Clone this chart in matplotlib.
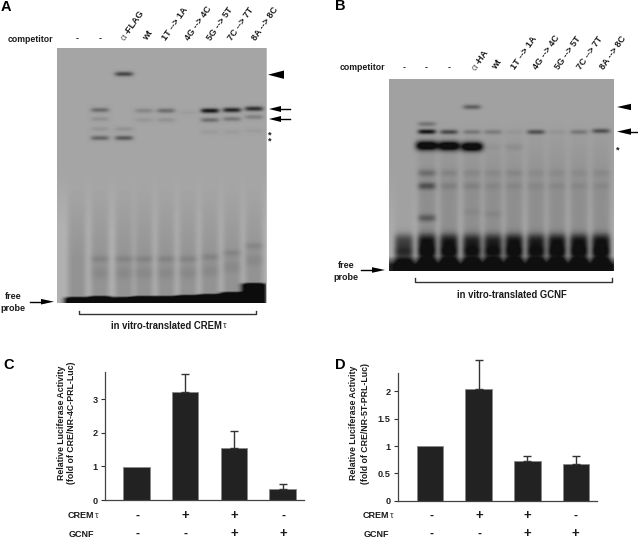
import numpy as np
from matplotlib import pyplot as plt
from matplotlib.patches import Polygon

plt.rcParams['font.family'] = ['Liberation Sans', 'DejaVu Sans']

W, H = 638, 540

# gel A: migration (y in gel rows), one entry per band: lane, row, strength
lanes_a = [77, 100, 124, 144, 166, 188, 210, 232, 254]
bands_a = [(2, 74, .62), (1, 110, .38), (1, 119, .13), (1, 129, .10), (1, 138, .42),
           (2, 129, .12), (2, 138, .50), (3, 110.7, .20), (3, 120, .09),
           (4, 110.7, .36), (4, 120, .12), (5, 112.7, .05), (6, 110.7, .95), (6, 120, .36),
           (6, 132, .07), (7, 110, .85), (7, 119, .30), (7, 132, .06),
           (8, 108.7, .78), (8, 117, .24), (8, 131, .06)]
shift_a = [0, 0, 0, 0, 0, 0, 2, 6, 13]
front_a = [7, 8, 7, 8, 8, 9, 10, 12, 21]

# gel B
lanes_b = [404, 427, 449, 472, 493, 514, 536, 557, 579, 601]
bands_b = [(3, 107, .42), (1, 124, .28), (1, 131.7, .9), (1, 145.7, 1.3), (2, 132, .55),
           (2, 146, 1.3), (3, 132, .25), (3, 146.7, 1.3), (4, 132, .22), (5, 132, .05),
           (5, 147, .08), (4, 147, .04), (6, 132, .5), (7, 132, .06), (8, 132, .25), (9, 131, .5),
           (1, 173, .25), (2, 173, .10), (3, 173, .08), (4, 173, .07), (5, 173, .09),
           (6, 173, .06), (7, 173, .06), (8, 173, .06), (9, 173, .07),
           (1, 186, .42), (2, 186, .11), (3, 186, .10), (4, 186, .07), (5, 186, .07),
           (6, 186, .06), (7, 186, .06), (8, 186, .06), (9, 186, .06),
           (1, 218, .34), (3, 212, .05), (4, 214, .06)]
depth_b = [.42, .62, .58, .52, .52, .6, .54, .6, .6, .62]

# bar charts
conditions_crem = ['-', '+', '+', '-']
conditions_gcnf = ['-', '-', '+', '+']
values_c = [0.97, 3.2, 1.55, 0.33]
errors_c = [0, 0.55, 0.5, 0.15]
values_d = [1.0, 2.04, 0.72, 0.68]
errors_d = [0, 0.53, 0.10, 0.14]

labels_a = ['wt', '1T --> 1A', '4G --> 4C', '5G --> 5T', '7C --> 7T', '8A --> 8C']
labels_b = ['wt', '1T --> 1A', '4G --> 4C', '5G --> 5T', '7C --> 7T', '8A --> 8C']


def lane_profile(xx, x0, half):
    return np.exp(-np.abs((xx - x0) / half) ** 4)


def gel_a(x0, x1, y0, y1):
    xx, yy = np.meshgrid(np.arange(x0, x1) + .5, np.arange(y0, y1) + .5)
    dark = np.zeros(xx.shape)
    gap = np.ones(xx.shape)
    for lane, row, s in bands_a:
        dark += s * lane_profile(xx, lanes_a[lane], 9.2) * np.exp(-((yy - row) / 2.4) ** 2)
    for i, x in enumerate(lanes_a):
        prof = lane_profile(xx, x, 9.5)
        gap -= prof
        s = shift_a[i]
        if i > 0:
            dark += .11 * prof * np.exp(-((yy - 259 + s) / 3.5) ** 2)
            dark += .07 * prof * np.exp(-((yy - 273 + s) / 6) ** 2)
        dark += .12 * prof * np.clip((yy - 190) / 70, 0, 1)
        # free probe along the bottom of the gel
        dark += 1.5 * lane_profile(xx, x, 12.5) * np.clip((yy - (y1 - front_a[i])) / 3, 0, 1)
    gray = .645 - .58 * dark + .05 * np.clip(gap, 0, 1) * np.clip((yy - 170) / 60, 0, 1)
    gray[:, -1:] = .74
    return np.clip(gray, .05, 1)


def gel_b(x0, x1, y0, y1):
    xx, yy = np.meshgrid(np.arange(x0, x1) + .5, np.arange(y0, y1) + .5)
    dark = np.zeros(xx.shape)
    gap = np.ones(xx.shape)
    for lane, row, s in bands_b:
        half = 11 if s > 1 else 9
        sig = 4.6 if s > 1 else 2.4 if row < 140 else 3.6
        dark += s * lane_profile(xx, lanes_b[lane], half) * np.exp(-((yy - row) / sig) ** 2)
    for i, x in enumerate(lanes_b):
        prof = lane_profile(xx, x, 9.5)
        gap -= prof
        if i > 0:
            dark += .12 * prof * np.clip((yy - 120) / 70, 0, 1)
        d = depth_b[i]
        dark += d * prof * np.exp(-((yy - 240) / 7) ** 2)
        dark += d * prof * np.exp(-((yy - 251) / 7) ** 2)
        dark += .5 * prof * np.clip((yy - 232) / 28, 0, 1)
    dark += .9 * np.clip((yy - 256) / 9, 0, 1)
    gray = .63 - .6 * dark + .04 * np.clip(gap, 0, 1) * np.clip((yy - 170) / 60, 0, 1)
    return np.clip(gray, .06, 1)


def arrowhead(ax, x_tip, x_base, y, half):
    ax.add_patch(Polygon([(x_tip, y), (x_base, y - half), (x_base, y + half)], color='black', lw=0))


def bold(ax, x, y, s, size=6.5, **kw):
    kw.setdefault('ha', 'left')
    kw.setdefault('va', 'center')
    ax.text(x, y, s, fontsize=size, fontweight='bold', color='#1a1a1a', **kw)


def bar_panel(fig, rect, values, errors, ticks, ticklabels, ymax):
    x0, x1, ytop, ybot, c0, step = rect
    ax = fig.add_axes([x0 / W, 1 - ybot / H, (x1 - x0) / W, (ybot - ytop) / H])
    pos = np.arange(len(values))
    ax.bar(pos, values, width=.544, color='#222222', edgecolor='#8a8a8a', linewidth=.6)
    ax.errorbar(pos[1:], values[1:], yerr=[np.zeros(3), errors[1:]], fmt='none', ecolor='#333333',
                elinewidth=1, capsize=3.2, capthick=1, clip_on=False)
    ax.set_xlim((x0 - c0) / step, (x1 - c0) / step)
    ax.set_ylim(0, ymax)
    ax.set_yticks(ticks)
    ax.set_yticklabels(ticklabels, fontsize=6.6, fontweight='bold', color='#222222')
    ax.set_xticks([])
    ax.tick_params(axis='y', length=3, width=.8, pad=2, color='#333333')
    for side in ['top', 'right']:
        ax.spines[side].set_visible(False)
    for side in ['left', 'bottom']:
        ax.spines[side].set_linewidth(.9)
        ax.spines[side].set_color('#444444')
    ax.patch.set_alpha(0)
    return ax


fig = plt.figure(figsize=(W / 100, H / 100), dpi=100)
ov = fig.add_axes([0, 0, 1, 1])

# gels
ov.imshow(gel_a(57, 267, 48, 303), cmap='gray', vmin=0, vmax=1, extent=(57, 267, 303, 48),
          interpolation='bilinear', aspect='auto')
ov.imshow(gel_b(389, 614, 79, 271), cmap='gray', vmin=0, vmax=1, extent=(389, 614, 271, 79),
          interpolation='bilinear', aspect='auto')
ov.set_xlim(0, W)
ov.set_ylim(H, 0)
ov.axis('off')

# panel letters
for x, y, s in [(1, 7, 'A'), (335, 6, 'B'), (3, 365, 'C'), (335, 365, 'D')]:
    ov.text(x, y, s, fontsize=10.5, fontweight='bold', color='black', va='center')

# panel A headers
bold(ov, 8, 39, 'competitor', size=6.3)
for x in [77, 100]:
    bold(ov, x, 38.5, '-', ha='center')
ov.text(126, 42, '\u03b1', fontsize=6.8, color='#555555', rotation=55, rotation_mode='anchor', va='bottom')
bold(ov, 130, 36, '-FLAG', rotation=55, rotation_mode='anchor', va='bottom')
for x, s in zip([149, 168, 191, 213, 234, 258], labels_a):
    bold(ov, x, 42, s, rotation=55, rotation_mode='anchor', va='bottom')

# panel B headers
bold(ov, 340, 68, 'competitor', size=6.3)
for x in [404, 426, 449]:
    bold(ov, x, 68, '-', ha='center')
ov.text(477, 72, '\u03b1', fontsize=6.8, color='#555555', rotation=55, rotation_mode='anchor', va='bottom')
bold(ov, 481, 66, '-HA', rotation=55, rotation_mode='anchor', va='bottom')
for x, s in zip([498, 517, 539, 561, 583, 606], labels_b):
    bold(ov, x, 71, s, rotation=55, rotation_mode='anchor', va='bottom')

# arrows panel A
arrowhead(ov, 268, 284, 74.7, 4.2)
arrowhead(ov, 269, 281, 109, 3)
ov.plot([278, 290], [109, 109], color='black', lw=1)
arrowhead(ov, 269, 281, 119, 3)
ov.plot([278, 290], [119, 119], color='black', lw=1)
bold(ov, 268, 138, '*\n*', ha='left', size=6.5, linespacing=.55)
arrowhead(ov, 54, 41, 301.7, 2.8)
ov.plot([30, 44], [301.7, 301.7], color='black', lw=1)
bold(ov, 13, 296.7, 'free', ha='center')
bold(ov, 13, 308.5, 'probe', ha='center')
ov.plot([79, 79, 256, 256], [310.5, 314, 314, 310.5], color='#333333', lw=1)
bold(ov, 111, 326, 'in vitro-translated CREM', size=6.85)
ov.text(222.5, 326, '\u03c4', fontsize=6.6, color='#333333', va='center')

# arrows panel B
arrowhead(ov, 617, 631, 107, 3.2)
arrowhead(ov, 617, 631, 131.6, 3.2)
ov.plot([628, 638], [131.6, 131.6], color='black', lw=1)
bold(ov, 615.5, 150, '*', size=6.5)
arrowhead(ov, 385, 372, 270, 2.8)
ov.plot([361, 375], [270, 270], color='black', lw=1)
bold(ov, 345.7, 266, 'free', ha='center')
bold(ov, 345.7, 277.6, 'probe', ha='center')
ov.plot([415, 415, 612, 612], [277.5, 282, 282, 277.5], color='#333333', lw=1)
bold(ov, 511.7, 295, 'in vitro-translated GCNF', ha='center', size=6.85)

# bar chart panels
bar_panel(fig, (104.5, 304, 372, 500, 136.5, 48.7), values_c, errors_c,
          [0, 1, 2, 3], ['0', '1', '2', '3'], 128 / 33.6)
bar_panel(fig, (397.7, 596.7, 372.7, 500.7, 430, 48.7), values_d, errors_d,
          [0, .5, 1, 1.5, 2], ['0', '0.5', '1', '1.5', '2'], 128 / 54.7)

for x, y, line in [(61, 423, 'Relative Luciferase Activity'), (72, 423, '(fold of CRE/NR-4C-PRL-Luc)'),
                   (354, 423, 'Relative Luciferase Activity'), (365, 423, '(fold of CRE/NR-5T-PRL-Luc)')]:
    bold(ov, x, y, line, ha='center', rotation=90, size=6.3)

for xs, lab_x in [([137, 185, 234, 283], 68), ([431, 479, 527, 575], 363)]:
    bold(ov, lab_x, 515.5, 'CREM')
    ov.text(lab_x + 26.5, 515.5, '\u03c4', fontsize=6.6, color='#333333', va='center')
    bold(ov, lab_x + 1, 534.5, 'GCNF')
    for x, a, b in zip(xs, conditions_crem, conditions_gcnf):
        for y, sign in [(515.5, a), (534, b)]:
            ov.text(x, y, sign, fontsize=9.5 if sign == '+' else 8.5, fontweight='bold',
                    ha='center', va='center', color='#1a1a1a')

fig.savefig('out.png', dpi=100)
